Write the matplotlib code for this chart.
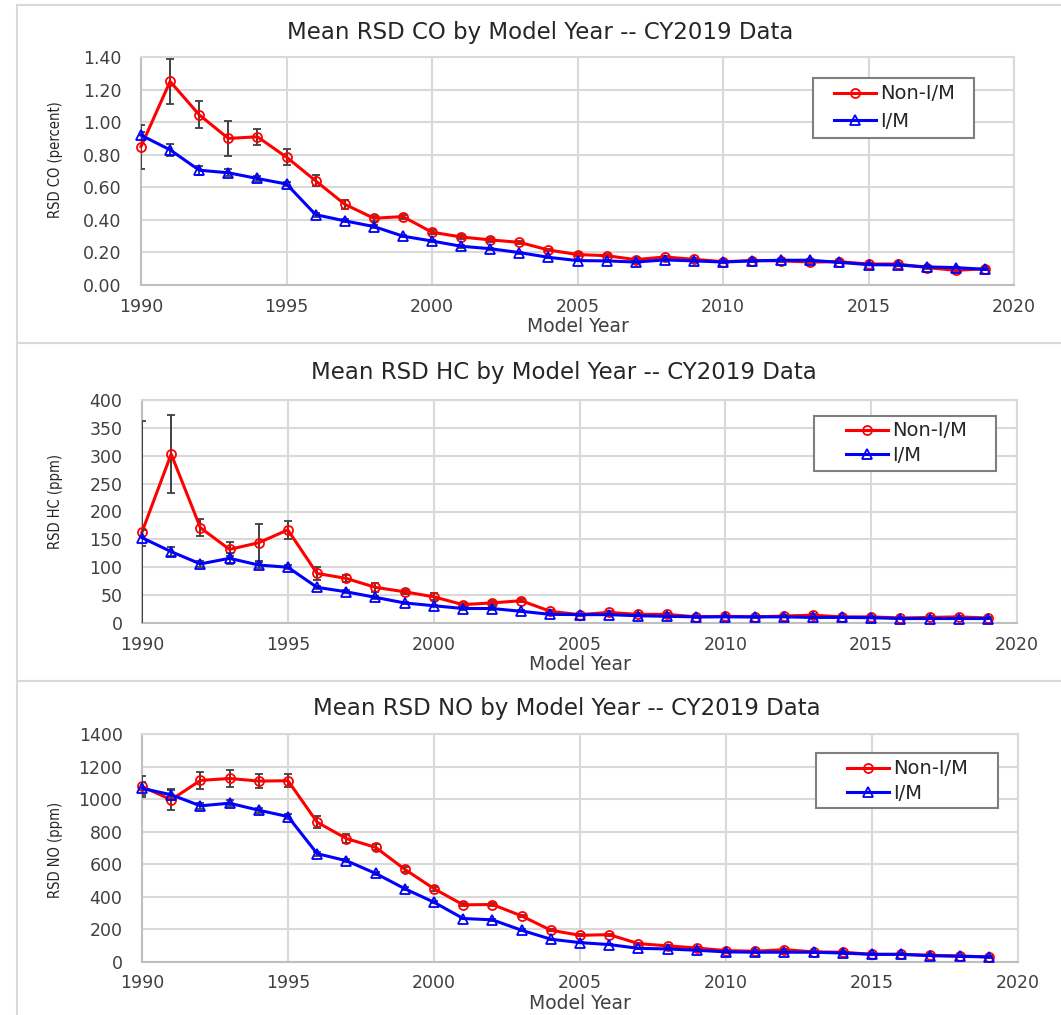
import matplotlib
matplotlib.use("Agg")
import matplotlib.pyplot as plt
from matplotlib.patches import Rectangle
from matplotlib.ticker import FormatStrFormatter, MultipleLocator

# ----- data -----
years = list(range(1990, 2020))

co_non_im = [0.85, 1.25, 1.045, 0.90, 0.91, 0.785, 0.64, 0.496, 0.41, 0.42,
             0.324, 0.295, 0.277, 0.262, 0.215, 0.187, 0.18, 0.156, 0.172, 0.158,
             0.143, 0.15, 0.148, 0.141, 0.143, 0.129, 0.129, 0.107, 0.09, 0.10]
co_im = [0.92, 0.83, 0.705, 0.689, 0.654, 0.62, 0.432, 0.394, 0.359, 0.30,
         0.27, 0.238, 0.223, 0.199, 0.17, 0.15, 0.148, 0.141, 0.154, 0.148,
         0.141, 0.148, 0.152, 0.152, 0.139, 0.125, 0.123, 0.111, 0.107, 0.096]
co_non_im_err = [0.135, 0.137, 0.083, 0.108, 0.048, 0.048, 0.035, 0.027, 0.015, 0.012,
                 0.012, 0.010, 0.010, 0.010, 0.008, 0.008, 0.008, 0.008, 0.008, 0.008,
                 0.008, 0.008, 0.008, 0.008, 0.008, 0.008, 0.008, 0.008, 0.008, 0.008]
co_im_err = [0.020, 0.036, 0.027, 0.022, 0.015, 0.015, 0.012, 0.010, 0.010, 0.008,
             0.008, 0.008, 0.006, 0.006, 0.005, 0.005, 0.005, 0.005, 0.005, 0.005,
             0.005, 0.005, 0.005, 0.005, 0.005, 0.005, 0.005, 0.005, 0.005, 0.005]

hc_non_im = [163, 303, 171, 132, 144, 167, 89, 80, 64, 56,
             47, 33, 36, 40, 21, 15, 19, 15.5, 15.5, 11,
             12, 11, 12.5, 14, 11, 11, 9, 10, 11, 9]
hc_im = [153, 128, 106, 116, 104, 100, 64, 56, 46, 36,
         31, 26, 26, 21, 15.5, 15, 15, 13, 12, 11,
         11, 11, 11, 10, 10, 9.5, 8, 8, 8, 8]
hc_non_im_err = [199, 70, 15, 12.5, 33, 16.5, 12, 6, 8, 4,
                 6, 3, 3, 3, 2, 2, 2, 2, 2, 2,
                 2, 2, 2, 2, 2, 2, 2, 2, 2, 2]
hc_im_err = [14, 8, 5, 10, 5, 4, 3, 3, 3, 2,
             2, 2, 2, 2, 1, 1, 1, 1, 1, 1,
             1, 1, 1, 1, 1, 1, 1, 1, 1, 1]

no_non_im = [1078, 996, 1115, 1127, 1111, 1113, 858, 758, 704, 569,
             450, 351, 353, 283, 195, 164, 168, 113, 99, 86,
             70, 66, 76, 62, 60, 47, 47, 41, 37, 31]
no_im = [1066, 1027, 959, 975, 932, 893, 665, 622, 544, 450,
         367, 267, 259, 195, 140, 119, 107, 84, 80, 72,
         62, 60, 60, 60, 55, 47, 47, 39, 35, 31]
no_non_im_err = [67, 65, 52, 53, 42, 40, 36, 30, 18, 15,
                 12, 10, 10, 8, 6, 6, 6, 6, 6, 6,
                 6, 6, 6, 6, 6, 6, 6, 6, 6, 6]
no_im_err = [40, 30, 18, 20, 15, 15, 12, 10, 8, 8,
             6, 6, 6, 5, 4, 4, 4, 4, 4, 4,
             4, 4, 4, 4, 4, 4, 4, 4, 4, 4]

titles = ["Mean RSD CO by Model Year -- CY2019 Data",
          "Mean RSD HC by Model Year -- CY2019 Data",
          "Mean RSD NO by Model Year -- CY2019 Data"]
ylabels = ["RSD CO (percent)", "RSD HC (ppm)", "RSD NO (ppm)"]
series_names = ["Non-I/M", "I/M"]

# ----- figure -----
W, H = 1061, 1015
fig = plt.figure(figsize=(W / 100, H / 100), dpi=100)
plt.rcParams['font.family'] = ['DejaVu Sans']

GRID = '#d9d9d9'
ERR = '#404040'
RED = '#ff0000'
BLUE = '#0000ff'
TXT = '#404040'

# pixel boxes of the three plot areas: left, right, top, bottom
boxes = [(141, 1014, 57, 285), (142, 1017, 400, 623), (142, 1018, 734, 962)]
title_xy = [(540, 32), (564, 372), (567, 708)]
ylabel_y = [0.548, 0.543, 0.491]
# legend frame (x0, x1, y0, y1) and where the handles start / rows centre
legend_box = [(813, 974, 78, 138), (814, 996, 416, 471), (816, 998, 753, 808)]
legend_anchor = [(834, 107.5, 0.43), (846, 443, 0.27), (847, 781, 0.27)]
panel_tops = [5, 343, 681]

panels = [
    (co_non_im, co_non_im_err, co_im, co_im_err, 1.40, 0.20, '%.2f'),
    (hc_non_im, hc_non_im_err, hc_im, hc_im_err, 400, 50, '%d'),
    (no_non_im, no_non_im_err, no_im, no_im_err, 1400, 200, '%d'),
]

# chart frames as in the screenshot
for pt in panel_tops:
    fig.add_artist(Rectangle((17 / W, 1 - (pt + 338) / H), 1.0, 338 / H,
                             transform=fig.transFigure, fill=False,
                             edgecolor=GRID, lw=1.5, clip_on=False))

for i, (nonim, nonim_err, im, im_err, ymax, ystep, fmt) in enumerate(panels):
    l, r, t, b = boxes[i]
    ax = fig.add_axes([l / W, 1 - b / H, (r - l) / W, (b - t) / H])

    e1 = ax.errorbar(years, nonim, yerr=nonim_err, color=RED, lw=2.2,
                     marker='o', ms=6.5, mfc='none', mec=RED, mew=1.3,
                     ecolor=ERR, elinewidth=1.4, capsize=2.9, capthick=1.4,
                     label=series_names[0], zorder=3)
    e2 = ax.errorbar(years, im, yerr=im_err, color=BLUE, lw=2.2,
                     marker='^', ms=6.5, mfc='none', mec=BLUE, mew=1.3,
                     ecolor=ERR, elinewidth=1.4, capsize=2.9, capthick=1.4,
                     label=series_names[1], zorder=4)
    e1[0].set_clip_on(False)
    e2[0].set_clip_on(False)

    ax.set_xlim(1990, 2020)
    ax.set_ylim(0, ymax)
    ax.xaxis.set_major_locator(MultipleLocator(5))
    ax.yaxis.set_major_locator(MultipleLocator(ystep))
    ax.yaxis.set_major_formatter(FormatStrFormatter(fmt))
    ax.grid(True, color=GRID, lw=1.5)
    ax.set_axisbelow(True)
    ax.tick_params(length=0, labelsize=12.5, colors=TXT)
    ax.tick_params(axis='y', pad=14)
    ax.tick_params(axis='x', pad=9)
    for side, sp in ax.spines.items():
        sp.set_color('#bfbfbf' if side in ('left', 'bottom') else GRID)
        sp.set_linewidth(1.5)

    ax.set_xlabel("Model Year", fontsize=13.5, color=TXT, labelpad=1)
    ax.set_ylabel(ylabels[i], fontsize=10.5, color='#262626',
                  family='DejaVu Sans', stretch='condensed')
    ax.yaxis.set_label_coords((63 - l) / (r - l), ylabel_y[i])

    tx, ty = title_xy[i]
    fig.text(tx / W, 1 - ty / H, titles[i], fontsize=16.5, color='#262626',
             ha='center', va='center')

    # legend: frame drawn separately to get the wide Excel-style box
    x0, x1, y0, y1 = legend_box[i]
    ax.add_patch(Rectangle(((x0 - l) / (r - l), (b - y1) / (b - t)),
                           (x1 - x0) / (r - l), (y1 - y0) / (b - t),
                           transform=ax.transAxes, facecolor='white',
                           edgecolor='#7f7f7f', lw=1.5, zorder=5, clip_on=False))
    hx, hy, spacing = legend_anchor[i]
    leg = ax.legend(handles=[e1[0], e2[0]], labels=series_names,
                    loc='center left',
                    bbox_to_anchor=((hx - l) / (r - l), (b - hy) / (b - t)),
                    borderaxespad=0, borderpad=0, fontsize=14, frameon=False,
                    handlelength=2.15, handletextpad=0.2, labelspacing=spacing)
    leg.set_zorder(6)
    for txt in leg.get_texts():
        txt.set_color('#262626')

fig.savefig("out.png", dpi=100, facecolor='white')
